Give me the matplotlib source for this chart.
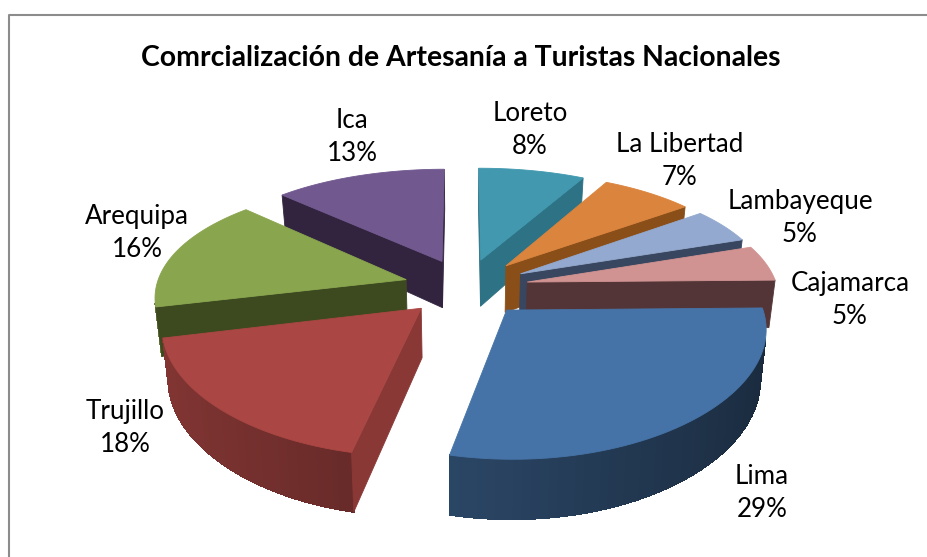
import numpy as np
import matplotlib
matplotlib.use('Agg')
import matplotlib.pyplot as plt
from matplotlib.patches import Polygon
from matplotlib.colors import to_rgb

plt.rcParams['font.family'] = ['Lato', 'DejaVu Sans']

# Data (percent per region)
regions = ['Lima', 'Trujillo', 'Arequipa', 'Ica', 'Loreto', 'La Libertad', 'Lambayeque', 'Cajamarca']
shares = [29, 18, 16, 13, 8, 7, 5, 5]
title = 'Comrcialización de Artesanía a Turistas Nacionales'

# Styles
top_colors = ['#4673A7', '#AA4643', '#89A54E', '#71588F', '#4198AF', '#DB843D', '#93A9CF', '#D19392']
cut_colors = ['#24405f', '#8a3836', '#3d4a1f', '#32243f', '#2d7285', '#8a4e18', '#38465f', '#533537']
label_pos = [(762, 493), (125, 428), (137, 233), (352, 137), (530, 130), (680, 161), (800, 218), (850, 300)]

# Projection of the pie plane on the picture, in pixels
X0, Y0 = 466, 287
RX, RY = 250, 115.5
PERSP = 0.1675
PERSP_X = 0.13
DEPTH = 48
EXPLODE = 0.25
START = 1.0
EYE = np.array([0, -1 / PERSP])


def project(x, y, z=0):
    s = 1 / (1 + PERSP * y)
    sx = 1 / (1 + PERSP_X * y)
    shrink = 1 - 0.02 * z
    return X0 + RX * x * sx * shrink, Y0 - RY * y * s + DEPTH * z * s


def shade(color, f):
    return tuple(c * f for c in to_rgb(color))


def add_quad(ax, pts, color, aa=True):
    ax.add_patch(Polygon(pts, closed=True, facecolor=color, edgecolor=color, linewidth=0.6, antialiased=aa))


fig = plt.figure(figsize=(9.28, 5.57), dpi=100)
ax = fig.add_axes([0, 0, 1, 1])
ax.set_xlim(0, 928)
ax.set_ylim(557, 0)
ax.axis('off')

# chart frame, cropped at the right and bottom of the picture
ax.plot([9, 9, 928], [557, 14.5, 14.5], color='#8c8c8c', linewidth=1.5, solid_capstyle='butt')

fractions = np.cumsum([0] + shares) / sum(shares)
angles = START - 360 * fractions

# back slices first, Lima last
mids = np.radians((angles[:-1] + angles[1:]) / 2)
order = np.argsort(-np.sin(mids))

for i in order:
    center = np.array([EXPLODE * np.cos(mids[i]), EXPLODE * np.sin(mids[i])])
    cx, cy = center
    ts = np.radians(np.linspace(angles[i], angles[i + 1], 60))
    xs = cx + np.cos(ts)
    ys = cy + np.sin(ts)

    # outer band, lighter on the left, only where it faces the viewer
    for k in range(len(ts) - 1):
        if (EYE[0] - xs[k]) * np.cos(ts[k]) + (EYE[1] - ys[k]) * np.sin(ts[k]) <= 0:
            continue
        f = 0.57 - 0.2 * np.cos(ts[k])
        add_quad(ax, [project(xs[k], ys[k]), project(xs[k + 1], ys[k + 1]),
                      project(xs[k + 1], ys[k + 1], 1), project(xs[k], ys[k], 1)], shade(top_colors[i], f), aa=False)

    # the two cut faces, only the ones facing the viewer
    to_eye = EYE - center
    normals = [(-np.sin(ts[0]), np.cos(ts[0])), (np.sin(ts[-1]), -np.cos(ts[-1]))]
    edges = [(xs[0], ys[0]), (xs[-1], ys[-1])]
    for n, (x, y) in zip(normals, edges):
        if np.dot(n, to_eye) > 0:
            add_quad(ax, [project(cx, cy), project(x, y), project(x, y, 1), project(cx, cy, 1)], cut_colors[i])

    top = [project(cx, cy)] + [project(x, y) for x, y in zip(xs, ys)]
    add_quad(ax, top, top_colors[i])

ax.text(461, 58, title, ha='center', va='center', fontsize=20.4, fontweight='bold', color='black')

for name, share, pos in zip(regions, shares, label_pos):
    ax.text(pos[0], pos[1], f'{name}\n{share}%', ha='center', va='center', fontsize=18.7,
            color='black', linespacing=1.42)

fig.savefig('out.png', dpi=100)
